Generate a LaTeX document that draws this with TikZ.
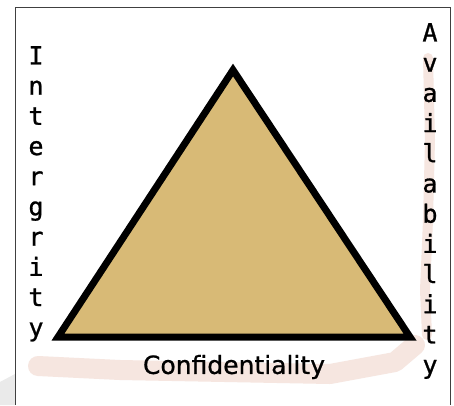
\documentclass[tikz,border=0pt]{standalone}
\usepackage{fontspec}
\setmainfont[FakeBold=0.8]{DejaVu Sans}
\newfontfamily\monofam[FakeBold=1.0]{DejaVu Sans Mono}
\definecolor{tan}{RGB}{216,186,118}
\definecolor{smudge}{RGB}{246,230,224}
\definecolor{wm}{RGB}{234,234,234}
\tikzset{
  edge/.style={line width=7pt, line join=miter, draw=black, fill=tan},
  vlabel/.style={align=center, inner sep=0pt, font=\monofam\fontsize{25}{30.2}\selectfont},
  hlabel/.style={inner sep=0pt, font=\fontsize{25}{28}\selectfont},
  smear/.style={draw=smudge, line cap=round, line join=round}
}
\begin{document}
\begin{tikzpicture}[x=1pt,y=-1pt]
\useasboundingbox (0,0) rectangle (454,405);
\fill[white] (0,0) rectangle (454,405);
% watermark
\fill[wm] (0,382) -- (15,374) -- (15,405) -- (0,405) -- cycle;
% frame
\draw[line width=1pt, draw=black!75] (15,405) -- (15,7) -- (450,7) -- (450,405);
% smudges
\draw[smear, line width=20pt] (38,366) -- (120,370) -- (330,374) -- (395,362) -- (415,345);
\draw[smear, line width=10pt] (428,58) -- (430,140) -- (428,220) -- (425,290) -- (427,335);
% triangle
\coordinate (top) at (233,70);
\coordinate (bl) at (58,337);
\coordinate (br) at (410,337);
\draw[edge] (top) -- (br) -- (bl) -- cycle;
% labels
\node[vlabel, anchor=north] (integrity) at (36,46) {I\\n\\t\\e\\r\\g\\r\\i\\t\\y};
\node[vlabel, anchor=north] (availability) at (430,23) {A\\v\\a\\i\\l\\a\\b\\i\\l\\i\\t\\y};
\node[hlabel] (conf) at (234,367) {Confidentiality};
\end{tikzpicture}
\end{document}
